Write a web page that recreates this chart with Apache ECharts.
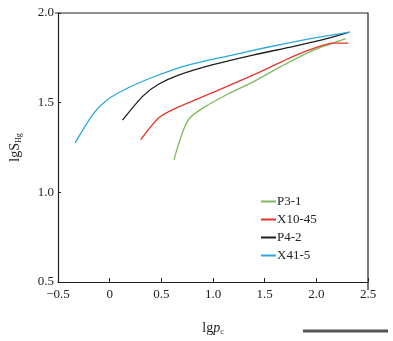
<!DOCTYPE html>
<html><head><meta charset="utf-8">
<script src="https://cdn.jsdelivr.net/npm/echarts@6/dist/echarts.min.js"></script>
<style>html,body{margin:0;padding:0;background:#fff}#c{width:393px;height:341px}</style>
</head><body><div id="c"></div>
<script>
var seriesNames = ['P3-1', 'X10-45', 'P4-2', 'X41-5'];
var seriesColors = ['#7dba5c', '#e8352b', '#1e1e1e', '#2aa8de'];
var p31 = [[0.622,1.182],[0.708,1.339],[0.772,1.412],[0.916,1.475],[1.141,1.547],[1.397,1.619],[1.654,1.701],[1.942,1.785],[2.135,1.827],[2.285,1.857]];
var x1045 = [[0.301,1.294],[0.468,1.412],[0.596,1.457],[0.885,1.529],[1.141,1.592],[1.462,1.673],[1.782,1.760],[1.974,1.803],[2.166,1.832],[2.31,1.832]];
var p42 = [[0.125,1.403],[0.324,1.538],[0.468,1.601],[0.66,1.652],[0.981,1.709],[1.397,1.767],[1.782,1.814],[2.10,1.857],[2.32,1.893]];
var x415 = [[-0.334,1.276],[-0.157,1.439],[-0.029,1.514],[0.18,1.583],[0.436,1.646],[0.757,1.709],[1.141,1.760],[1.526,1.809],[1.942,1.857],[2.10,1.872],[2.32,1.893]];
var xTickLabels = {'-0.5':'\u22120.5','0':'0','0.5':'0.5','1':'1.0','1.5':'1.5','2':'2.0','2.5':'2.5'};
var yTickLabels = {'0.5':'0.5','1':'1.0','1.5':'1.5','2':'2.0'};
var allData = [p31, x1045, p42, x415];

var font = 'Liberation Serif';
var chart = echarts.init(document.getElementById('c'));
chart.setOption({
  animation: false,
  backgroundColor: '#fff',
  grid: {left: 55, right: 25, top: 13, bottom: 51, show: false},
  legend: {
    data: seriesNames, orient: 'vertical', left: 256, top: 190,
    itemWidth: 15, itemHeight: 2, itemGap: 5, icon: 'rect',
    textStyle: {fontFamily: font, fontSize: 13, color: '#222', padding: [0,0,0,-4]}
  },
  xAxis: {
    type: 'value', min: -0.5, max: 2.5, interval: 0.5,
    axisLine: {show: true, onZero: false, lineStyle: {color: '#222', width: 1.2}},
    axisTick: {show: true, inside: true, length: 4, lineStyle: {color: '#222'}},
    splitLine: {show: false},
    axisLabel: {fontFamily: font, fontSize: 13, color: '#222', margin: 6,
      formatter: function(v){ return xTickLabels[String(v)] || String(v); }},
    name: '{a|lg}{b|p}{c|c}', nameLocation: 'middle', nameGap: 38,
    nameTextStyle: {rich: {
      a: {fontFamily: font, fontSize: 14, color: '#222'},
      b: {fontFamily: font, fontSize: 14, fontStyle: 'italic', color: '#222'},
      c: {fontFamily: font, fontSize: 8, color: '#222', verticalAlign: 'bottom', padding: [8,0,0,0]}
    }}
  },
  yAxis: {
    type: 'value', min: 0.5, max: 2.0, interval: 0.5,
    axisLine: {show: true, onZero: false, lineStyle: {color: '#222', width: 1.2}},
    axisTick: {show: true, inside: true, length: 3, lineStyle: {color: '#222'}},
    splitLine: {show: false},
    axisLabel: {fontFamily: font, fontSize: 13, color: '#222', margin: 4,
      formatter: function(v){ return yTickLabels[String(v)] || String(v); }},
    name: '{a|lgS}{c|Hg}', nameLocation: 'middle', nameGap: 35, nameRotate: 90,
    nameTextStyle: {rich: {
      a: {fontFamily: font, fontSize: 14, color: '#222'},
      c: {fontFamily: font, fontSize: 8, color: '#222', verticalAlign: 'bottom', padding: [8,0,0,0]}
    }}
  },
  graphic: [
    {type: 'polyline', shape: {points: [[55, 13], [368, 13], [368, 290]]}, style: {fill: 'none', stroke: '#222', lineWidth: 1.2}, silent: true, z: 0},
    {type: 'line', shape: {x1: 303, y1: 331, x2: 388, y2: 331}, style: {stroke: '#555', lineWidth: 3}, silent: true}
  ],
  series: seriesNames.map(function(n, i){
    return {name: n, type: 'line', data: allData[i], showSymbol: false, symbol: 'none',
      smooth: 0.3, lineStyle: {color: seriesColors[i], width: 1.3}, itemStyle: {color: seriesColors[i]}};
  })
});
</script></body></html>
